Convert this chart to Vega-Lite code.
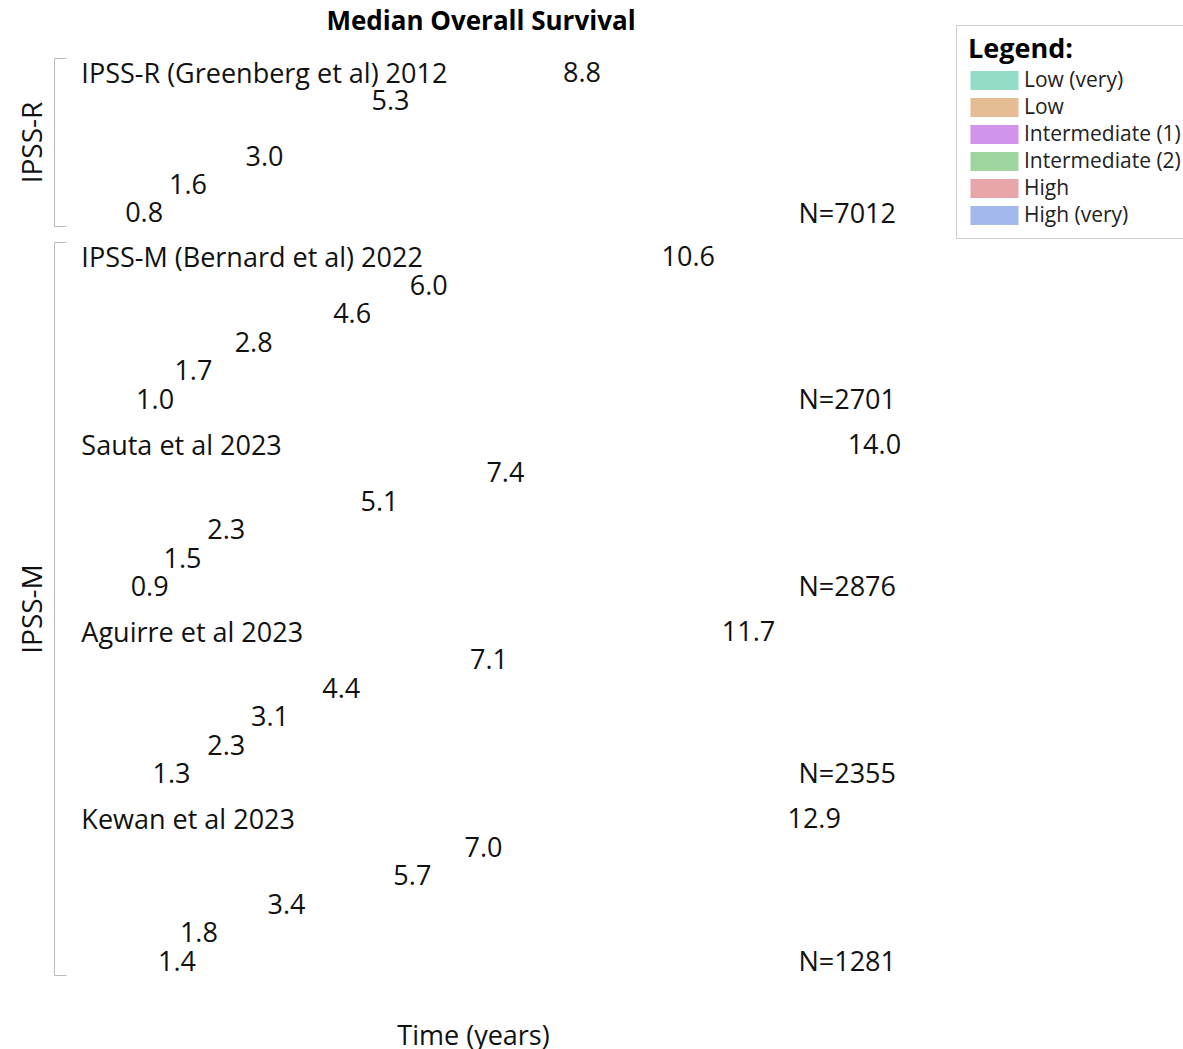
{
  "$schema": "https://vega.github.io/schema/vega-lite/v6.json",
  "datasets": {
    "surv": [
      {"group": "IPSS-R", "study": "IPSS-R (Greenberg et al) 2012", "category": "Low (very)", "value": 8.8},
      {"group": "IPSS-R", "study": "IPSS-R (Greenberg et al) 2012", "category": "Low", "value": 5.3},
      {"group": "IPSS-R", "study": "IPSS-R (Greenberg et al) 2012", "category": "Intermediate (2)", "value": 3.0},
      {"group": "IPSS-R", "study": "IPSS-R (Greenberg et al) 2012", "category": "High", "value": 1.6},
      {"group": "IPSS-R", "study": "IPSS-R (Greenberg et al) 2012", "category": "High (very)", "value": 0.8},
      {"group": "IPSS-M", "study": "IPSS-M (Bernard et al) 2022", "category": "Low (very)", "value": 10.6},
      {"group": "IPSS-M", "study": "IPSS-M (Bernard et al) 2022", "category": "Low", "value": 6.0},
      {"group": "IPSS-M", "study": "IPSS-M (Bernard et al) 2022", "category": "Intermediate (1)", "value": 4.6},
      {"group": "IPSS-M", "study": "IPSS-M (Bernard et al) 2022", "category": "Intermediate (2)", "value": 2.8},
      {"group": "IPSS-M", "study": "IPSS-M (Bernard et al) 2022", "category": "High", "value": 1.7},
      {"group": "IPSS-M", "study": "IPSS-M (Bernard et al) 2022", "category": "High (very)", "value": 1.0},
      {"group": "IPSS-M", "study": "Sauta et al 2023", "category": "Low (very)", "value": 14.0},
      {"group": "IPSS-M", "study": "Sauta et al 2023", "category": "Low", "value": 7.4},
      {"group": "IPSS-M", "study": "Sauta et al 2023", "category": "Intermediate (1)", "value": 5.1},
      {"group": "IPSS-M", "study": "Sauta et al 2023", "category": "Intermediate (2)", "value": 2.3},
      {"group": "IPSS-M", "study": "Sauta et al 2023", "category": "High", "value": 1.5},
      {"group": "IPSS-M", "study": "Sauta et al 2023", "category": "High (very)", "value": 0.9},
      {"group": "IPSS-M", "study": "Aguirre et al 2023", "category": "Low (very)", "value": 11.7},
      {"group": "IPSS-M", "study": "Aguirre et al 2023", "category": "Low", "value": 7.1},
      {"group": "IPSS-M", "study": "Aguirre et al 2023", "category": "Intermediate (1)", "value": 4.4},
      {"group": "IPSS-M", "study": "Aguirre et al 2023", "category": "Intermediate (2)", "value": 3.1},
      {"group": "IPSS-M", "study": "Aguirre et al 2023", "category": "High", "value": 2.3},
      {"group": "IPSS-M", "study": "Aguirre et al 2023", "category": "High (very)", "value": 1.3},
      {"group": "IPSS-M", "study": "Kewan et al 2023", "category": "Low (very)", "value": 12.9},
      {"group": "IPSS-M", "study": "Kewan et al 2023", "category": "Low", "value": 7.0},
      {"group": "IPSS-M", "study": "Kewan et al 2023", "category": "Intermediate (1)", "value": 5.7},
      {"group": "IPSS-M", "study": "Kewan et al 2023", "category": "Intermediate (2)", "value": 3.4},
      {"group": "IPSS-M", "study": "Kewan et al 2023", "category": "High", "value": 1.8},
      {"group": "IPSS-M", "study": "Kewan et al 2023", "category": "High (very)", "value": 1.4}
    ],
    "studies": [
      {"group": "IPSS-R", "study": "IPSS-R (Greenberg et al) 2012", "nlabel": "N=7012"},
      {"group": "IPSS-M", "study": "IPSS-M (Bernard et al) 2022", "nlabel": "N=2701"},
      {"group": "IPSS-M", "study": "Sauta et al 2023", "nlabel": "N=2876"},
      {"group": "IPSS-M", "study": "Aguirre et al 2023", "nlabel": "N=2355"},
      {"group": "IPSS-M", "study": "Kewan et al 2023", "nlabel": "N=1281"}
    ]
  },
  "padding": {"left": 19, "top": 8, "right": 0, "bottom": 0},
  "bounds": "flush",
  "spacing": 16,
  "resolve": {"scale": {"color": "shared", "x": "shared", "yOffset": "independent"}},
  "vconcat": [
    {
      "title": {"text": "Median Overall Survival", "fontSize": 26, "fontWeight": "bold", "font": "Open Sans", "color": "#000", "anchor": "middle", "frame": "group", "offset": 23, "dx": 8},
      "width": 838,
      "height": 168,
      "layer": [
        {
          "data": {"name": "surv"},
          "transform": [{"filter": "datum.group === 'IPSS-R'"}],
          "mark": {"type": "bar", "opacity": 0},
          "encoding": {
            "x": {"field": "value", "type": "quantitative", "stack": null, "scale": {"domain": [-0.5, 14.81], "nice": false, "zero": false}, "axis": null},
            "y": {"field": "group", "type": "nominal", "scale": {"type": "band", "paddingInner": 0, "paddingOuter": 0},
                  "axis": {"title": "IPSS-R", "labels": false, "tickBand": "extent", "tickSize": -12, "tickColor": "#bbb", "domainColor": "#bbb", "grid": false, "titleFontSize": 28, "titleFontWeight": "normal", "titleFont": "Open Sans", "titleColor": "#111", "titlePadding": 6}},
            "color": {"field": "category", "type": "nominal",
                      "scale": {"domain": ["Low (very)", "Low", "Intermediate (1)", "Intermediate (2)", "High", "High (very)"],
                                "range": ["#93dcc7", "#e5bc94", "#d293ec", "#9fd6a0", "#e8a5aa", "#a3b8ec"]},
                      "legend": {"title": "Legend:"}}
          }
        },
        {
          "layer": [
            {
              "data": {"name": "surv"},
              "transform": [{"filter": "datum.group === 'IPSS-R'"}],
              "mark": {"type": "text", "align": "left", "baseline": "middle", "fontSize": 27, "font": "Open Sans", "color": "#111", "dy": 2},
              "encoding": {
                "x": {"field": "value", "type": "quantitative", "axis": null},
                "y": {"field": "study", "type": "nominal", "axis": null, "scale": {"type": "band", "domain": ["IPSS-R (Greenberg et al) 2012"], "paddingInner": 0, "paddingOuter": 0}},
                "yOffset": {"field": "category", "type": "nominal", "scale": {"type": "band", "domain": ["Low (very)", "Low", "Intermediate (1)", "Intermediate (2)", "High", "High (very)"], "paddingInner": 0, "paddingOuter": 0}},
                "text": {"field": "value", "type": "quantitative", "format": ".1f"}
              }
            },
            {
              "data": {"name": "studies"},
              "transform": [{"filter": "datum.group === 'IPSS-R'"}],
              "mark": {"type": "text", "align": "left", "baseline": "middle", "fontSize": 27, "font": "Open Sans", "color": "#111", "dy": 3},
              "encoding": {
                "x": {"datum": 0, "type": "quantitative", "axis": null},
                "y": {"field": "study", "type": "nominal", "axis": null},
                "yOffset": {"datum": "Low (very)", "type": "nominal"},
                "text": {"field": "study", "type": "nominal"}
              }
            },
            {
              "data": {"name": "studies"},
              "transform": [{"filter": "datum.group === 'IPSS-R'"}],
              "mark": {"type": "text", "align": "right", "baseline": "middle", "fontSize": 27, "font": "Open Sans", "color": "#111", "dx": 4, "dy": 3},
              "encoding": {
                "x": {"value": "width"},
                "y": {"field": "study", "type": "nominal", "axis": null},
                "yOffset": {"datum": "High (very)", "type": "nominal"},
                "text": {"field": "nlabel", "type": "nominal"}
              }
            }
          ]
        }
      ],
      "resolve": {"scale": {"y": "independent", "yOffset": "independent"}, "axis": {"y": "independent"}}
    },
    {
      "width": 838,
      "height": 733,
      "layer": [
        {
          "data": {"name": "surv"},
          "transform": [{"filter": "datum.group === 'IPSS-M'"}],
          "mark": {"type": "bar", "opacity": 0},
          "encoding": {
            "x": {"field": "value", "type": "quantitative", "stack": null, "scale": {"domain": [-0.5, 14.81], "nice": false, "zero": false},
                  "axis": {"title": "Time (years)", "labels": false, "ticks": false, "domain": false, "grid": false, "titleFontSize": 27, "titleFontWeight": "normal", "titleFont": "Open Sans", "titleColor": "#111", "titlePadding": 48}},
            "y": {"field": "group", "type": "nominal", "scale": {"type": "band", "paddingInner": 0, "paddingOuter": 0},
                  "axis": {"title": "IPSS-M", "labels": false, "tickBand": "extent", "tickSize": -12, "tickColor": "#bbb", "domainColor": "#bbb", "grid": false, "titleFontSize": 28, "titleFontWeight": "normal", "titleFont": "Open Sans", "titleColor": "#111", "titlePadding": 6}},
            "color": {"field": "category", "type": "nominal",
                      "scale": {"domain": ["Low (very)", "Low", "Intermediate (1)", "Intermediate (2)", "High", "High (very)"],
                                "range": ["#93dcc7", "#e5bc94", "#d293ec", "#9fd6a0", "#e8a5aa", "#a3b8ec"]},
                      "legend": {"title": "Legend:"}}
          }
        },
        {
          "layer": [
            {
              "data": {"name": "surv"},
              "transform": [{"filter": "datum.group === 'IPSS-M'"}],
              "mark": {"type": "text", "align": "left", "baseline": "middle", "fontSize": 27, "font": "Open Sans", "color": "#111", "dy": 2},
              "encoding": {
                "x": {"field": "value", "type": "quantitative"},
                "y": {"field": "study", "type": "nominal", "axis": null, "scale": {"type": "band", "domain": ["IPSS-M (Bernard et al) 2022", "Sauta et al 2023", "Aguirre et al 2023", "Kewan et al 2023"], "paddingInner": 0.088, "paddingOuter": 0}},
                "yOffset": {"field": "category", "type": "nominal", "scale": {"type": "band", "domain": ["Low (very)", "Low", "Intermediate (1)", "Intermediate (2)", "High", "High (very)"], "paddingInner": 0, "paddingOuter": 0}},
                "text": {"field": "value", "type": "quantitative", "format": ".1f"}
              }
            },
            {
              "data": {"name": "studies"},
              "transform": [{"filter": "datum.group === 'IPSS-M'"}],
              "mark": {"type": "text", "align": "left", "baseline": "middle", "fontSize": 27, "font": "Open Sans", "color": "#111", "dy": 3},
              "encoding": {
                "x": {"datum": 0, "type": "quantitative"},
                "y": {"field": "study", "type": "nominal", "axis": null},
                "yOffset": {"datum": "Low (very)", "type": "nominal"},
                "text": {"field": "study", "type": "nominal"}
              }
            },
            {
              "data": {"name": "studies"},
              "transform": [{"filter": "datum.group === 'IPSS-M'"}],
              "mark": {"type": "text", "align": "right", "baseline": "middle", "fontSize": 27, "font": "Open Sans", "color": "#111", "dx": 4, "dy": 2},
              "encoding": {
                "x": {"value": "width"},
                "y": {"field": "study", "type": "nominal", "axis": null},
                "yOffset": {"datum": "High (very)", "type": "nominal"},
                "text": {"field": "nlabel", "type": "nominal"}
              }
            }
          ]
        }
      ],
      "resolve": {"scale": {"y": "independent", "yOffset": "independent"}, "axis": {"y": "independent"}}
    }
  ],
  "config": {
    "view": {"stroke": null},
    "font": "Open Sans",
    "legend": {
      "orient": "none",
      "legendX": 902,
      "legendY": -33,
      "titleFontSize": 27,
      "titleFontWeight": "bold",
      "titleColor": "#000",
      "titlePadding": 6,
      "labelFontSize": 21,
      "labelColor": "#222",
      "labelOffset": 19,
      "labelLimit": 300,
      "symbolType": "M-2.5,-1H2.5V1H-2.5Z",
      "symbolSize": 369,
      "symbolOffset": 16,
      "symbolStrokeWidth": 0,
      "symbolOpacity": 1,
      "strokeColor": "#ccc",
      "padding": 12,
      "rowPadding": 5
    }
  }
}
